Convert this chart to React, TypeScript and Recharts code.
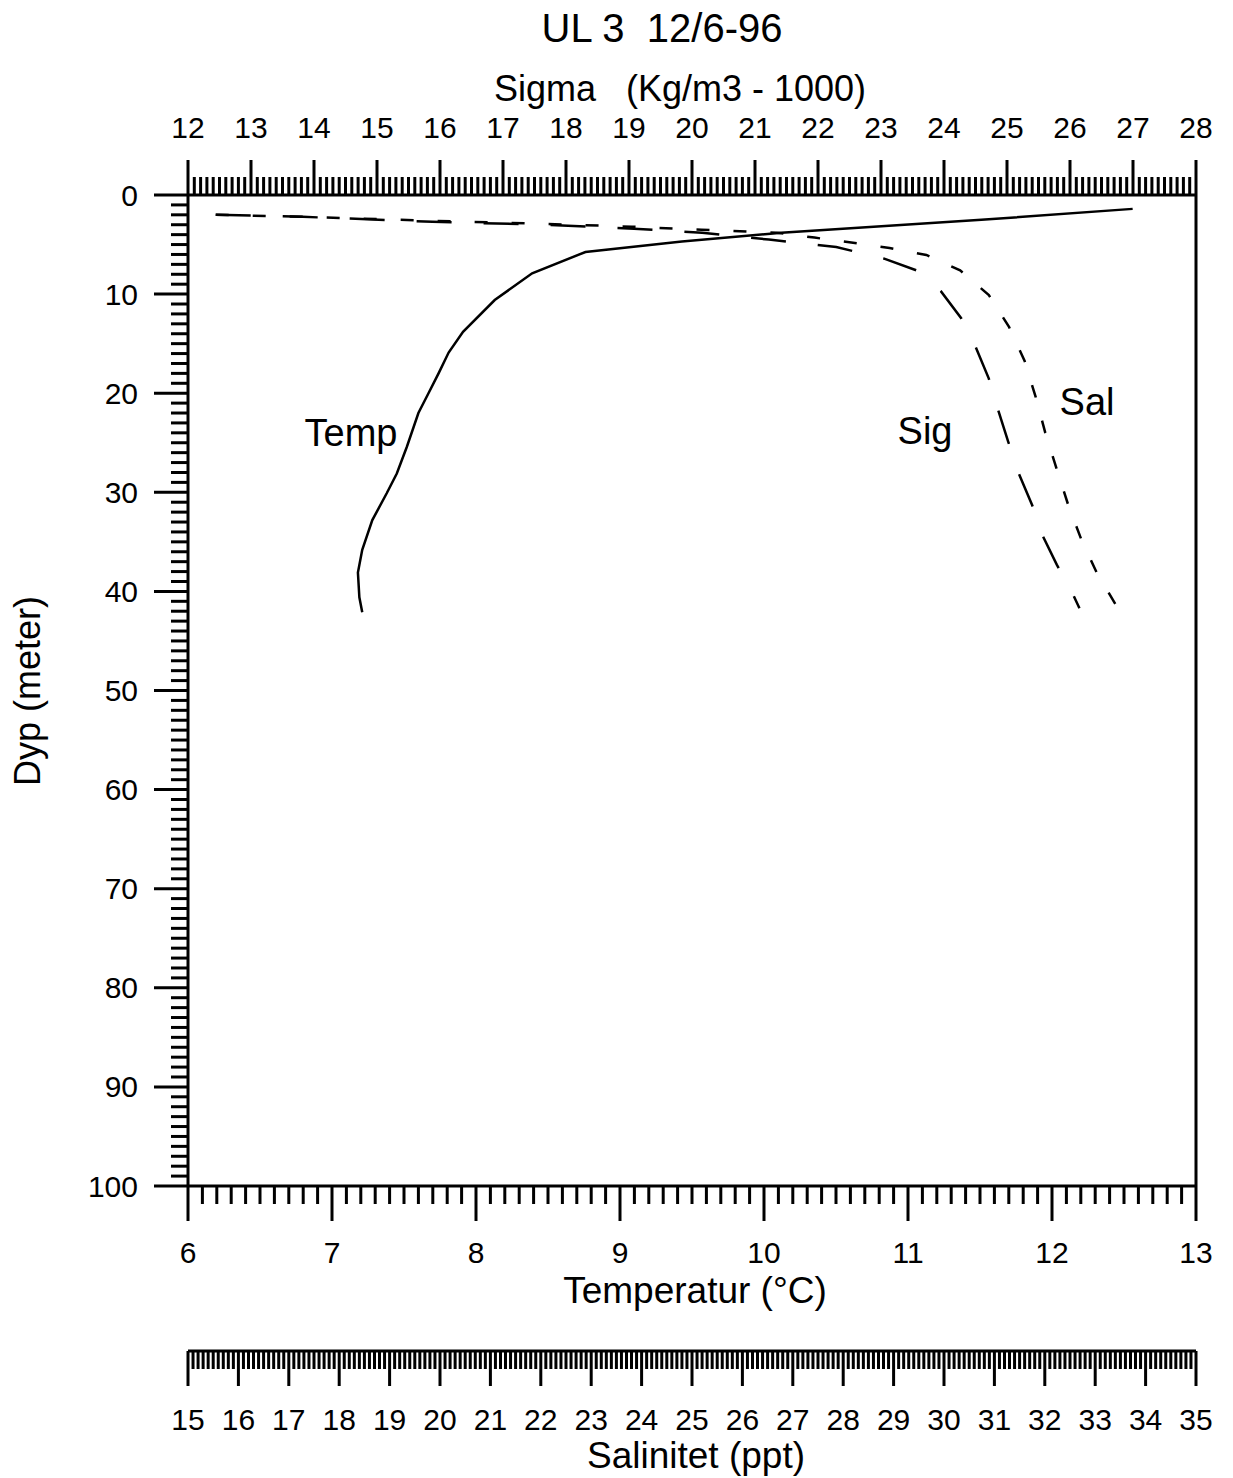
import React from 'react';
import { ScatterChart, Scatter, XAxis, YAxis } from 'recharts';

// depth profiles
const TEMP_DEPTH = [1.4, 2.5, 3.8, 4.7, 5.75, 7.9, 10.6, 13.8, 15.9, 18.0, 20.0, 22.0, 25.4, 28.1, 30.1, 32.8, 35.8, 38.1, 40.6, 42.1];
const TEMP_VALUES = [12.56, 11.51, 10.12, 9.43, 8.76, 8.39, 8.13, 7.91, 7.81, 7.74, 7.67, 7.6, 7.52, 7.45, 7.38, 7.28, 7.21, 7.18, 7.19, 7.21];

const SIG_DEPTH = [2.0, 2.2, 2.7, 3.0, 3.4, 3.8, 4.5, 5.25, 6.4, 7.6, 9.7, 12.4, 15.3, 18.5, 21.7, 24.9, 28.0, 31.3, 34.3, 37.3, 40.2, 41.7];
const SIG_VALUES = [12.44, 13.82, 15.88, 17.62, 19.08, 20.16, 21.22, 22.29, 23.04, 23.56, 23.95, 24.27, 24.5, 24.71, 24.86, 25.02, 25.18, 25.4, 25.56, 25.79, 26.04, 26.15];

const SAL_DEPTH = [2.0, 2.2, 2.6, 2.9, 3.2, 3.5, 3.8, 4.3, 4.8, 5.35, 6.05, 7.6, 10.1, 13.3, 16.75, 20.4, 24.0, 27.55, 31.2, 34.7, 38.1, 41.7];
const SAL_VALUES = [15.55, 17.27, 19.85, 22.03, 23.81, 25.19, 26.68, 27.43, 28.16, 28.92, 29.65, 30.32, 30.89, 31.29, 31.6, 31.82, 32.01, 32.23, 32.46, 32.72, 33.03, 33.45];

// axis ranges (major tick labels)
const SIGMA_TICKS = [12, 13, 14, 15, 16, 17, 18, 19, 20, 21, 22, 23, 24, 25, 26, 27, 28];
const TEMP_TICKS = [6, 7, 8, 9, 10, 11, 12, 13];
const SAL_TICKS = [15, 16, 17, 18, 19, 20, 21, 22, 23, 24, 25, 26, 27, 28, 29, 30, 31, 32, 33, 34, 35];
const DEPTH_TICKS = [0, 10, 20, 30, 40, 50, 60, 70, 80, 90, 100];

const FONT = '"Liberation Sans", Arial, Helvetica, sans-serif';
const TICK_FONT = 30;

const minorTicks = (major: number[], sub: number) => {
  const lo = major[0];
  const hi = major[major.length - 1];
  const out: number[] = [];
  const n = Math.round((hi - lo) * sub);
  for (let i = 0; i <= n; i++) out.push(Math.round((lo + i / sub) * 1000) / 1000);
  return out;
};

const isMajor = (v: number) => Math.abs(v - Math.round(v)) < 1e-6;

const toRows = (xs: number[], ds: number[]) => xs.map((x, i) => ({ x, depth: ds[i] }));
const tempData = toRows(TEMP_VALUES, TEMP_DEPTH);
const sigData = toRows(SIG_VALUES, SIG_DEPTH);
const salData = toRows(SAL_VALUES, SAL_DEPTH);

const TopTick = (props: any) => {
  const { x, y, payload } = props;
  const major = isMajor(payload.value);
  return (
    <g>
      <line x1={x} x2={x} y1={y} y2={y - (major ? 35 : 18)} stroke="#000" strokeWidth={3} />
      {major && (
        <text x={x} y={y - 57} textAnchor="middle" fontSize={TICK_FONT} fill="#000" fontFamily={FONT}>
          {payload.value}
        </text>
      )}
    </g>
  );
};

const makeBottomTick = (labelOffset: number, width: number) => (props: any) => {
  const { x, y, payload } = props;
  const major = isMajor(payload.value);
  return (
    <g>
      <line x1={x} x2={x} y1={y} y2={y + (major ? 35 : 18)} stroke="#000" strokeWidth={width} />
      {major && (
        <text x={x} y={y + labelOffset} textAnchor="middle" fontSize={TICK_FONT} fill="#000" fontFamily={FONT}>
          {payload.value}
        </text>
      )}
    </g>
  );
};

const TempTick = makeBottomTick(77, 3);
const SalTick = makeBottomTick(79, 3);

const LeftTick = (props: any) => {
  const { x, y, payload } = props;
  const major = payload.value % 10 === 0;
  return (
    <g>
      <line x1={x} x2={x - (major ? 34 : 17)} y1={y} y2={y} stroke="#000" strokeWidth={3} />
      {major && (
        <text x={x - 50} y={y + 10.5} textAnchor="end" fontSize={TICK_FONT} fill="#000" fontFamily={FONT}>
          {payload.value}
        </text>
      )}
    </g>
  );
};

const RightTick = (props: any) => {
  const { x, y, payload } = props;
  const major = payload.value % 10 === 0;
  return <line x1={x} x2={x + (major ? 34 : 17)} y1={y} y2={y} stroke="#000" strokeWidth={3} />;
};

const Txt = ({ x, y, size, rotate, children }: any) => (
  <div
    style={{
      position: 'absolute',
      left: x,
      top: y,
      transform: `translate(-50%, -50%)${rotate ? ' rotate(-90deg)' : ''}`,
      fontSize: size,
      lineHeight: 1,
      whiteSpace: 'pre',
      color: '#000',
    }}
  >
    {children}
  </div>
);

const axisLine = { stroke: '#000', strokeWidth: 3 };
const noShape = () => <g />;

export default function App() {
  return (
    <div style={{ position: 'absolute', left: 0, top: 0, width: 1233, height: 1478, background: '#fff', fontFamily: FONT }}>
      <ScatterChart width={1233} height={1478} margin={{ top: 0, right: 0, bottom: 0, left: 0 }}>
        <XAxis
          xAxisId="top_sig"
          orientation="top"
          type="number"
          dataKey="x"
          domain={[12, 28]}
          ticks={minorTicks(SIGMA_TICKS, 10)}
          interval={0}
          height={195}
          tickSize={0}
          tickMargin={0}
          tickLine={false}
          axisLine={axisLine}
          tick={TopTick}
        />
        {/* salinity scale sits below the temperature scale */}
        <XAxis
          xAxisId="b_sal"
          orientation="bottom"
          type="number"
          dataKey="x"
          domain={[15, 35]}
          ticks={minorTicks(SAL_TICKS, 10)}
          interval={0}
          height={127}
          tickSize={0}
          tickMargin={0}
          tickLine={false}
          axisLine={axisLine}
          tick={SalTick}
        />
        <XAxis
          xAxisId="a_temp"
          orientation="bottom"
          type="number"
          dataKey="x"
          domain={[6, 13]}
          ticks={minorTicks(TEMP_TICKS, 10)}
          interval={0}
          height={165}
          tickSize={0}
          tickMargin={0}
          tickLine={false}
          axisLine={axisLine}
          tick={TempTick}
        />
        <YAxis
          yAxisId="depth"
          orientation="left"
          type="number"
          dataKey="depth"
          domain={[0, 100]}
          reversed
          ticks={minorTicks(DEPTH_TICKS, 1)}
          interval={0}
          width={188}
          tickSize={0}
          tickMargin={0}
          tickLine={false}
          axisLine={axisLine}
          tick={LeftTick}
        />
        <YAxis
          yAxisId="right"
          orientation="right"
          type="number"
          dataKey="depth"
          domain={[0, 100]}
          reversed
          ticks={minorTicks(DEPTH_TICKS, 1)}
          interval={0}
          width={37}
          tickSize={0}
          tickMargin={0}
          tickLine={false}
          axisLine={axisLine}
          tick={RightTick}
        />
        <Scatter
          name="Temp"
          data={tempData}
          xAxisId="a_temp"
          yAxisId="depth"
          fill="#000"
          line={{ stroke: '#000', strokeWidth: 2.5 }}
          lineType="joint"
          shape={noShape}
          legendType="none"
          isAnimationActive={false}
        />
        <Scatter
          name="Sig"
          data={sigData}
          xAxisId="top_sig"
          yAxisId="depth"
          fill="#000"
          line={{ stroke: '#000', strokeWidth: 2.5, strokeDasharray: '35 32' }}
          lineType="joint"
          shape={noShape}
          legendType="none"
          isAnimationActive={false}
        />
        <Scatter
          name="Sal"
          data={salData}
          xAxisId="b_sal"
          yAxisId="depth"
          fill="#000"
          line={{ stroke: '#000', strokeWidth: 2.5, strokeDasharray: '13 24' }}
          lineType="joint"
          shape={noShape}
          legendType="none"
          isAnimationActive={false}
        />
      </ScatterChart>

      <Txt x={662} y={28} size={40}>{'UL 3  12/6-96'}</Txt>
      <Txt x={680} y={89} size={36}>{'Sigma   (Kg/m3 - 1000)'}</Txt>
      <Txt x={28} y={691} size={36} rotate>{'Dyp (meter)'}</Txt>
      <Txt x={695} y={1290} size={37}>{'Temperatur (°C)'}</Txt>
      <Txt x={696} y={1455} size={37}>{'Salinitet (ppt)'}</Txt>
      <Txt x={351} y={433} size={38}>Temp</Txt>
      <Txt x={925} y={431} size={38}>Sig</Txt>
      <Txt x={1087} y={402} size={38}>Sal</Txt>
    </div>
  );
}
